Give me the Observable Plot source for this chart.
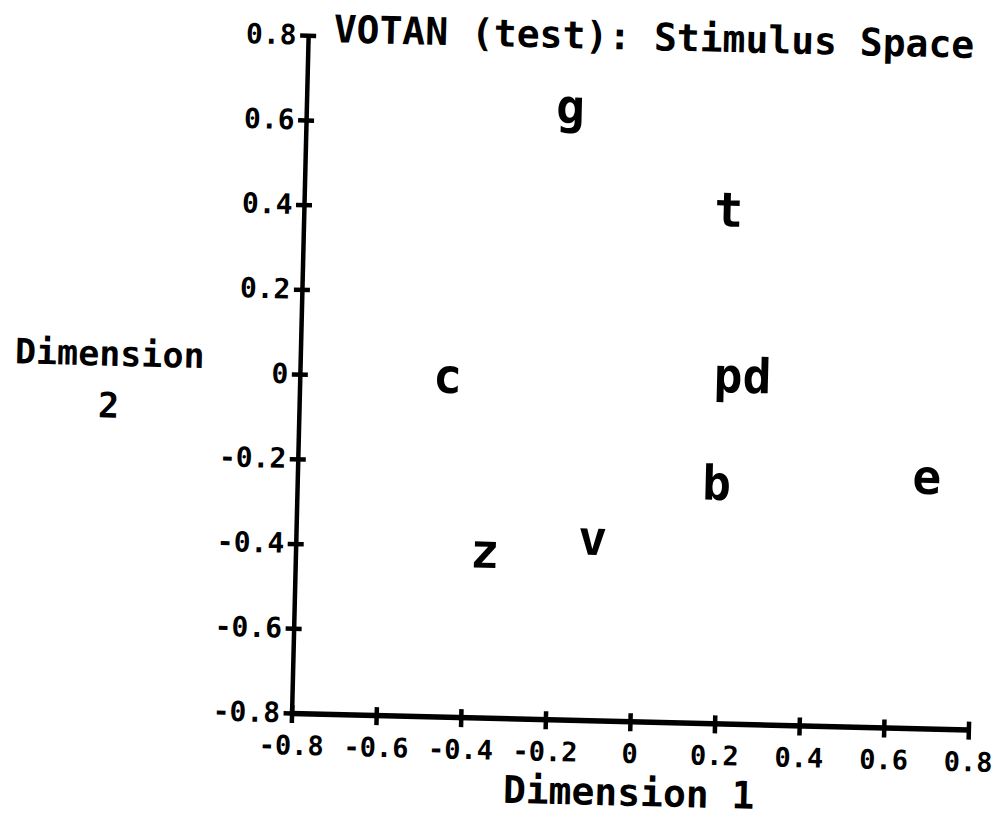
<!DOCTYPE html>
<html>
<head>
<meta charset="utf-8">
<script src="https://cdn.jsdelivr.net/npm/d3@7"></script>
<script src="https://cdn.jsdelivr.net/npm/@observablehq/plot@0.6"></script>
<style>
  html, body { margin: 0; padding: 0; background: #fff; }
  #chart { width: 998px; height: 824px; overflow: hidden; }
  #chart svg { transform: rotate(1.4deg); transform-origin: 499px 412px; }
</style>
</head>
<body>
<div id="chart"></div>
<script>
const title = "VOTAN (test): Stimulus Space";
const xLabel = "Dimension 1";
const yLabel = "Dimension\n2";
const xTicks = [-0.8, -0.6, -0.4, -0.2, 0, 0.2, 0.4, 0.6, 0.8];
const yTicks = [-0.8, -0.6, -0.4, -0.2, 0, 0.2, 0.4, 0.6, 0.8];
const stimuli = ["g", "t", "c", "pd", "b", "e", "z", "v"];
const dim1 = [-0.177, 0.203, -0.452, 0.245, 0.190, 0.686, -0.354, -0.100];
const dim2 = [0.644, 0.410, 0.002, 0.019, -0.235, -0.209, -0.409, -0.372];

const points = stimuli.map((s, i) => ({label: s, x: dim1[i], y: dim2[i]}));
const fmt = d => String(d);

const chart = Plot.plot({
  width: 998,
  height: 824,
  marginLeft: 299,
  marginRight: 22,
  marginTop: 40,
  marginBottom: 106,
  x: {domain: [-0.8, 0.8]},
  y: {domain: [-0.8, 0.8]},
  style: {
    fontFamily: "'DejaVu Sans Mono', monospace",
    fontWeight: "bold",
    color: "#000",
    background: "#fff",
    overflow: "visible"
  },
  marks: [
    Plot.ruleY([-0.8], {strokeWidth: 5.5, stroke: "#000"}),
    Plot.ruleX([-0.8], {strokeWidth: 4.5, stroke: "#000"}),
    Plot.ruleX(xTicks, {x: d => d, y1: -0.8, y2: -0.8, insetTop: -8, insetBottom: -10, strokeWidth: 4.5, stroke: "#000"}),
    Plot.ruleY(yTicks, {y: d => d, x1: -0.8, x2: -0.8, insetLeft: -8, insetRight: -8, strokeWidth: 4.5, stroke: "#000"}),
    Plot.axisX(xTicks, {tickSize: 0, tickPadding: 22, tickFormat: fmt, fontSize: 27, label: null}),
    Plot.axisY(yTicks, {tickSize: 0, tickPadding: 12, tickFormat: fmt, fontSize: 28, label: null}),
    Plot.text(points, {x: "x", y: "y", text: "label", fontSize: 48, fill: "#000"}),
    Plot.text([title], {frameAnchor: "top-left", textAnchor: "start", lineAnchor: "top", dx: 25, dy: -21, fontSize: 38, fill: "#000"}),
    Plot.text([xLabel], {frameAnchor: "bottom", lineAnchor: "top", dx: 0, dy: 57, fontSize: 38, fill: "#000"}),
    Plot.text([yLabel], {frameAnchor: "left", textAnchor: "middle", lineAnchor: "middle", dx: -191, dy: 5, lineHeight: 1.48, fontSize: 35, fill: "#000"})
  ]
});
document.getElementById("chart").appendChild(chart);
</script>
</body>
</html>
